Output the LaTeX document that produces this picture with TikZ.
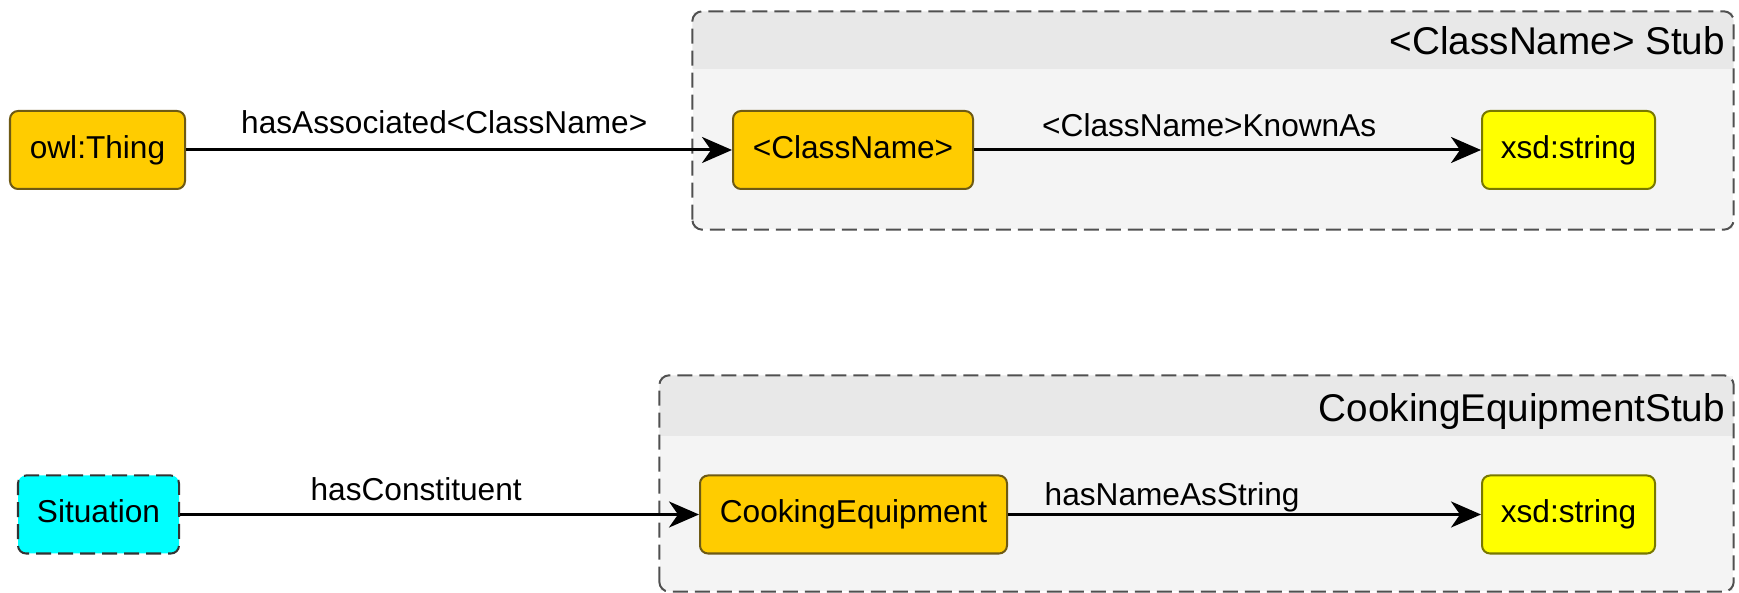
\documentclass[tikz,border=0pt]{standalone}
\usepackage{fontspec}
\setmainfont{Liberation Sans}
\usetikzlibrary{positioning,arrows.meta,calc}

\definecolor{classgold}{HTML}{FFCC00}
\definecolor{golddraw}{RGB}{110,90,20}
\definecolor{datayellow}{HTML}{FFFF00}
\definecolor{yellowdraw}{RGB}{120,120,0}
\definecolor{situcyan}{HTML}{00FFFF}
\definecolor{stubbody}{HTML}{F4F4F4}
\definecolor{stubhead}{HTML}{E8E8E8}
\definecolor{stubdraw}{HTML}{505050}

\begin{document}
\begin{tikzpicture}[
  >={Stealth[length=0.3cm,width=0.26cm,inset=0.09cm]},
  every node/.style={font=\fontsize{9}{10}\selectfont},
  classnode/.style={draw=golddraw,fill=classgold,line width=0.57pt,rounded corners=0.08cm,
    minimum height=0.78cm,inner sep=0,text height=6.5pt,text depth=1.9pt},
  datanode/.style={classnode,draw=yellowdraw,fill=datayellow},
  situnode/.style={classnode,draw=black!80,fill=situcyan,dash pattern=on 0.15cm off 0.07cm},
  stubbox/.style={fill=stubbody,inner sep=0},
  stubline/.style={draw=stubdraw,line width=0.57pt,dash pattern=on 0.15cm off 0.07cm,rounded corners=0.1cm},
  stubtitle/.style={font=\fontsize{11}{13}\selectfont,inner sep=0,anchor=base east},
  proplabel/.style={inner sep=0,text depth=0pt,anchor=south},
  propline/.style={->,line width=0.85pt}]
\useasboundingbox (0,0) rectangle (17.39,-5.93);

% stub containers
\node[stubbox,minimum width=10.40cm,minimum height=2.17cm] (stub1) at (12.13,-1.205) {};
\begin{scope}
  \clip[rounded corners=0.1cm] (stub1.south west) rectangle (stub1.north east);
  \fill[stubhead] (stub1.north west) rectangle ($(stub1.north east)+(0,-0.58)$);
\end{scope}
\draw[stubline] (stub1.south west) rectangle (stub1.north east);
\node[stubtitle] (stub1title) at ($(stub1.north east)+(-0.08,-0.43)$) {<ClassName> Stub};

\node[stubbox,minimum width=10.73cm,minimum height=2.15cm] (stub2) at (11.965,-4.835) {};
\begin{scope}
  \clip[rounded corners=0.1cm] (stub2.south west) rectangle (stub2.north east);
  \fill[stubhead] (stub2.north west) rectangle ($(stub2.north east)+(0,-0.61)$);
\end{scope}
\draw[stubline] (stub2.south west) rectangle (stub2.north east);
\node[stubtitle] (stub2title) at ($(stub2.north east)+(-0.08,-0.46)$) {CookingEquipmentStub};

% classes
\node[classnode,minimum width=1.75cm] (owlThing) at (0.975,-1.50) {owl:Thing};
\node[classnode,minimum width=2.40cm] (ClassName) at (8.53,-1.50) {<ClassName>};
\node[datanode,minimum width=1.73cm] (xsdString1) at (15.685,-1.50) {xsd:string};

\node[situnode,minimum width=1.61cm] (Situation) at (0.985,-5.145) {Situation};
\node[classnode,minimum width=3.07cm] (CookingEquipment) at (8.535,-5.145) {CookingEquipment};
\node[datanode,minimum width=1.73cm] (xsdString2) at (15.685,-5.145) {xsd:string};

% properties
\draw[propline] (owlThing) -- (ClassName)
  node[proplabel,pos=0.473,yshift=0.15cm] (assocLabel) {hasAssociated<ClassName>};
\draw[propline] (ClassName) -- (xsdString1)
  node[proplabel,pos=0.464,yshift=0.12cm] (knownLabel) {<ClassName>KnownAs};
\draw[propline] (Situation) -- (CookingEquipment)
  node[proplabel,pos=0.455,yshift=0.13cm] (constLabel) {hasConstituent};
\draw[propline] (CookingEquipment) -- (xsdString2)
  node[proplabel,pos=0.347,yshift=0.08cm] (nameLabel) {hasNameAsString};
\end{tikzpicture}
\end{document}
